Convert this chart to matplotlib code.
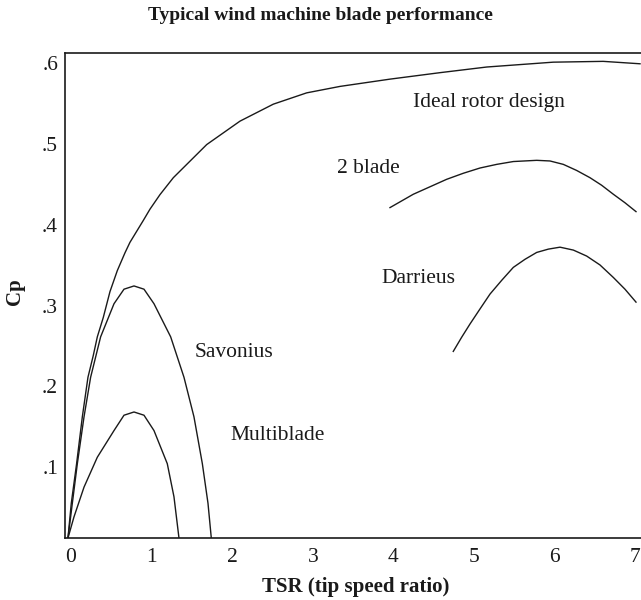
import numpy as np
import matplotlib
matplotlib.use("Agg")
import matplotlib.pyplot as plt
from matplotlib.transforms import ScaledTranslation

# values (TSR, Cp)
ideal_x = [0.0, 0.041, 0.107, 0.178, 0.248, 0.314, 0.364, 0.438, 0.521, 0.612, 0.707,
           0.769, 0.934, 1.017, 1.141, 1.307, 1.721, 2.134, 2.547, 2.961, 3.375,
           3.995, 4.615, 5.195, 6.02, 6.64, 7.097]
ideal_y = [0.0, 0.043, 0.092, 0.150, 0.199, 0.226, 0.249, 0.273, 0.305, 0.331, 0.353,
           0.366, 0.393, 0.407, 0.425, 0.446, 0.487, 0.516, 0.537, 0.551, 0.559,
           0.568, 0.576, 0.583, 0.589, 0.590, 0.587]

savonius_x = [0.0, 0.054, 0.116, 0.199, 0.281, 0.405, 0.571, 0.695, 0.819, 0.943,
              1.067, 1.274, 1.439, 1.563, 1.667, 1.737, 1.778]
savonius_y = [0.0, 0.043, 0.092, 0.150, 0.199, 0.249, 0.290, 0.308, 0.312, 0.308,
              0.290, 0.249, 0.199, 0.150, 0.092, 0.043, 0.0]

multi_x = [0.0, 0.074, 0.199, 0.364, 0.571, 0.695, 0.819, 0.943, 1.067, 1.232, 1.315, 1.377]
multi_y = [0.0, 0.026, 0.063, 0.100, 0.133, 0.152, 0.156, 0.152, 0.133, 0.092, 0.051, 0.0]

blade2_x = [3.995, 4.284, 4.698, 4.905, 5.112, 5.319, 5.525, 5.815, 5.98, 6.145, 6.31,
            6.476, 6.62, 6.766, 6.91, 7.047]
blade2_y = [0.409, 0.4255, 0.444, 0.4515, 0.458, 0.4625, 0.466, 0.4675, 0.4667, 0.4625,
            0.455, 0.446, 0.4367, 0.4255, 0.415, 0.404]

darrieus_x = [4.78, 4.884, 4.988, 5.112, 5.236, 5.381, 5.525, 5.67, 5.815, 5.96, 6.104,
              6.27, 6.435, 6.60, 6.766, 6.91, 7.047]
darrieus_y = [0.231, 0.2485, 0.265, 0.2836, 0.302, 0.319, 0.335, 0.345, 0.3535, 0.3576,
              0.360, 0.3564, 0.349, 0.338, 0.3225, 0.308, 0.292]

labels = ["Ideal rotor design", "2 blade", "Darrieus", "Savonius", "Multiblade"]
label_x = [4.284, 3.342, 3.89, 1.576, 2.01]
label_y = [0.539, 0.458, 0.321, 0.230, 0.127]

x_ticks = [0, 1, 2, 3, 4, 5, 6, 7]
y_ticks = [0.1, 0.2, 0.3, 0.4, 0.5, 0.6]
y_ticklabels = [".1", ".2", ".3", ".4", ".5", ".6"]

plt.rcParams["font.family"] = "serif"
plt.rcParams["font.serif"] = ["Liberation Serif", "DejaVu Serif"]

fig = plt.figure(figsize=(6.41, 6.0), dpi=100)
ax = fig.add_axes([0.1014, 0.1033, 0.8986, 0.8079])

for xs, ys in [(ideal_x, ideal_y), (savonius_x, savonius_y), (multi_x, multi_y),
               (blade2_x, blade2_y), (darrieus_x, darrieus_y)]:
    ax.plot(xs, ys, color="#1a1a1a", lw=1.0, solid_joinstyle="round")

for txt, tx, ty in zip(labels, label_x, label_y):
    ax.text(tx, ty, txt, fontsize=15.5, ha="left", va="center", color="#1a1a1a")

ax.set_xlim(-0.037, 7.109)
ax.set_ylim(0, 0.598)
ax.set_xticks(x_ticks)
ax.set_xticklabels([str(t) for t in x_ticks])
ax.set_yticks(y_ticks)
ax.set_yticklabels(y_ticklabels)
ax.tick_params(length=0, labelsize=15.5, colors="#1a1a1a")
ax.tick_params(axis="x", pad=7)
ax.tick_params(axis="y", pad=5)

ax.spines["right"].set_visible(False)
for s in ["left", "top", "bottom"]:
    ax.spines[s].set_linewidth(1.2)
    ax.spines[s].set_color("#1a1a1a")

# tick labels in the source sit a bit off their grid positions
dx = ScaledTranslation(0.03, 0, fig.dpi_scale_trans)
dy = ScaledTranslation(0, -0.10, fig.dpi_scale_trans)
for lab in ax.get_xticklabels():
    lab.set_transform(lab.get_transform() + dx)
for lab in ax.get_yticklabels():
    lab.set_transform(lab.get_transform() + dy)

fig.text(0.5554, 1 - 587 / 600, "TSR (tip speed ratio)", fontsize=15, fontweight="bold",
         ha="center", va="center", color="#1a1a1a")
fig.text(15 / 641, 1 - 292 / 600, "Cp", fontsize=15, fontweight="bold", rotation=90,
         ha="center", va="center", color="#1a1a1a")
fig.text(0.5, 1 - 16 / 600, "Typical wind machine blade performance", fontsize=14,
         fontweight="bold", ha="center", va="center", color="#1a1a1a")

fig.savefig("out.png", dpi=100)
